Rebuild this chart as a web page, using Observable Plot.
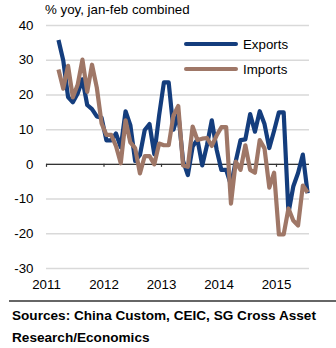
<!DOCTYPE html>
<html>
<head>
<meta charset="utf-8">
<script src="https://cdn.jsdelivr.net/npm/d3@7"></script>
<script src="https://cdn.jsdelivr.net/npm/@observablehq/plot@0.6"></script>
<style>
  html, body { margin: 0; padding: 0; background: #fff; }
  body { font-family: "Liberation Sans", Arial, Helvetica, sans-serif; color: #000; }
  #wrap { position: relative; width: 336px; height: 348px; overflow: hidden; }
  #chart { position: absolute; left: 0; top: 0; }
  #title { position: absolute; left: 45px; top: 2px; font-size: 13.3px; line-height: 15px; white-space: nowrap; }
  .leg { position: absolute; left: 184px; height: 15px; display: flex; align-items: center; font-size: 13.3px; line-height: 15px; white-space: nowrap; }
  .sw { width: 54px; height: 4px; border-radius: 2px; margin-right: 5px; }
  #rule { position: absolute; left: 9px; top: 300px; width: 327px; height: 2px; background: #666; }
  #src { position: absolute; left: 12px; top: 305px; font-size: 13.6px; line-height: 21.5px; font-weight: bold; white-space: nowrap; }
</style>
</head>
<body>
<div id="wrap">
  <div id="chart"></div>
  <div id="title">% yoy, jan-feb combined</div>
  <div id="legend"></div>
  <div id="rule"></div>
  <div id="src">Sources: China Custom, CEIC, SG Cross Asset<br>Research/Economics</div>
</div>
<script>
// Monthly categories (Jan and Feb carry the combined Jan-Feb value)
const months = [
  "2011-03","2011-04","2011-05","2011-06","2011-07","2011-08","2011-09","2011-10","2011-11","2011-12",
  "2012-01","2012-02","2012-03","2012-04","2012-05","2012-06","2012-07","2012-08","2012-09","2012-10","2012-11","2012-12",
  "2013-01","2013-02","2013-03","2013-04","2013-05","2013-06","2013-07","2013-08","2013-09","2013-10","2013-11","2013-12",
  "2014-01","2014-02","2014-03","2014-04","2014-05","2014-06","2014-07","2014-08","2014-09","2014-10","2014-11","2014-12",
  "2015-01","2015-02","2015-03","2015-04","2015-05","2015-06","2015-07"
];
const exportsYoy = [
  35.8, 29.9, 19.4, 17.9, 20.4, 24.5, 17.1, 15.9, 13.8, 13.4,
  6.9, 6.9, 8.9, 4.9, 15.3, 11.3, 1.0, 2.7, 9.9, 11.6, 2.9, 14.1,
  23.6, 23.6, 10.0, 14.7, 1.0, -3.1, 5.1, 7.2, -0.3, 5.6, 12.7, 4.3,
  -1.6, -1.6, -6.0, 0.9, 7.0, 7.2, 14.5, 9.4, 15.3, 11.6, 4.7, 9.7,
  15.0, 15.0, -14.0, -6.4, -2.5, 2.8, -8.3
];
const importsYoy = [
  27.3, 21.8, 28.4, 19.3, 22.9, 30.2, 20.9, 28.7, 22.1, 11.8,
  8.5, 8.5, 5.3, 0.3, 12.7, 6.3, 4.7, -2.6, 2.4, 2.4, 0.0, 6.0,
  5.5, 5.5, 14.1, 16.8, -0.3, -0.7, 10.9, 7.0, 7.4, 7.6, 5.3, 8.3,
  10.7, 10.7, -11.3, 0.8, -1.6, 5.5, -1.6, -2.4, 7.0, 4.6, -6.7, -2.4,
  -20.2, -20.2, -12.7, -16.2, -17.6, -6.1, -8.1
];
const seriesNames = ["Exports", "Imports"];
const seriesColors = ["#143d7d", "#9f7767"];
const yTicks = [-30, -20, -10, 0, 10, 20, 30, 40];
const yearTicks = [2011, 2012, 2013, 2014, 2015];

// month string -> fractional year at the middle of the month
const toT = s => +s.slice(0, 4) + (+s.slice(5, 7) - 0.5) / 12;
const rows = [];
[exportsYoy, importsYoy].forEach((vals, si) => {
  months.forEach((m, i) => rows.push({series: seriesNames[si], t: toT(m), v: vals[i]}));
});

const chart = Plot.plot({
  width: 336,
  height: 295,
  marginLeft: 46,
  marginRight: 27,
  marginTop: 25,
  marginBottom: 27,
  style: {fontFamily: "'Liberation Sans', Arial, Helvetica, sans-serif", fontSize: "13.3px", color: "#000", background: "transparent", overflow: "visible"},
  x: {domain: [2011, 2015.574], ticks: yearTicks, tickFormat: d => String(d), tickSize: 0, tickPadding: 11, label: null},
  y: {domain: [-30, 40], ticks: yTicks, tickFormat: d => String(d), tickSize: 0, tickPadding: 13, label: null},
  color: {domain: seriesNames, range: seriesColors},
  marks: [
    Plot.ruleY(yTicks, {stroke: "#d9d9d9", strokeWidth: 1.5}),
    Plot.ruleY([0], {stroke: "#333", strokeWidth: 1.2}),
    Plot.ruleX(yearTicks, {x: d => d, y1: 0, y2: 0, insetBottom: -3, stroke: "#333", strokeWidth: 1.2}),
    Plot.line(rows, {x: "t", y: "v", z: "series", stroke: "series", strokeWidth: 4.2, strokeLinejoin: "round", strokeLinecap: "butt"})
  ]
});
document.getElementById("chart").appendChild(chart);

// legend
const legend = document.getElementById("legend");
const legendTops = [36.5, 61.5];
seriesNames.forEach((name, i) => {
  const row = document.createElement("div");
  row.className = "leg";
  row.style.top = legendTops[i] + "px";
  const sw = document.createElement("div");
  sw.className = "sw";
  sw.style.background = seriesColors[i];
  const label = document.createElement("span");
  label.textContent = name;
  row.appendChild(sw);
  row.appendChild(label);
  legend.appendChild(row);
});
</script>
</body>
</html>
